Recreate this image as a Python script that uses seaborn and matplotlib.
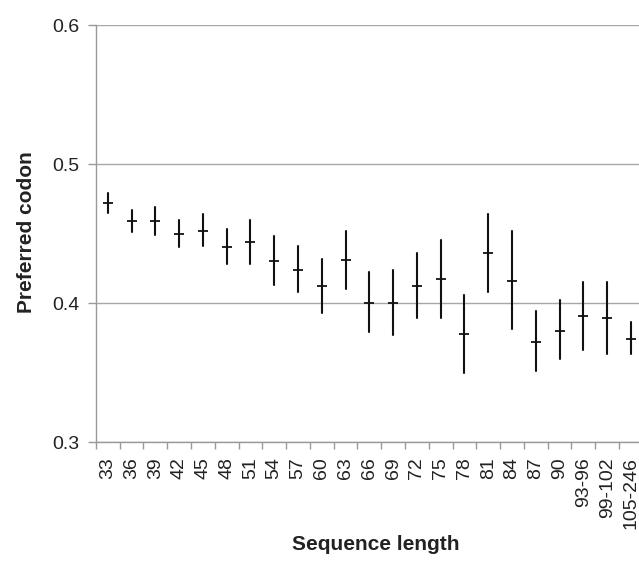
import matplotlib
matplotlib.use("Agg")
import matplotlib.pyplot as plt
import seaborn as sns
import pandas as pd
import numpy as np

lengths = ['33', '36', '39', '42', '45', '48', '51', '54', '57', '60', '63', '66',
           '69', '72', '75', '78', '81', '84', '87', '90', '93-96', '99-102', '105-246']
mean_vals = [0.472, 0.459, 0.459, 0.450, 0.452, 0.440, 0.444, 0.430, 0.424, 0.412, 0.431, 0.400,
             0.400, 0.412, 0.417, 0.378, 0.436, 0.416, 0.372, 0.380, 0.391, 0.389, 0.374]
lower_vals = [0.465, 0.451, 0.449, 0.440, 0.441, 0.428, 0.428, 0.413, 0.408, 0.393, 0.410, 0.379,
              0.377, 0.389, 0.389, 0.350, 0.408, 0.381, 0.351, 0.360, 0.366, 0.363, 0.363]
upper_vals = [0.479, 0.467, 0.469, 0.460, 0.464, 0.453, 0.460, 0.448, 0.441, 0.432, 0.452, 0.422,
              0.424, 0.436, 0.445, 0.406, 0.464, 0.452, 0.394, 0.402, 0.415, 0.415, 0.386]

# long form: median of (low, mean, high) is the mean, full percentile range gives the bar
df = pd.DataFrame({
    'length': lengths * 3,
    'value': lower_vals + mean_vals + upper_vals,
})

sns.set_style('white')
plt.rcParams['font.family'] = ['Liberation Sans', 'DejaVu Sans']

fig = plt.figure(figsize=(6.39, 5.62), dpi=100)
ax = fig.add_axes([0.150, 0.2135, 0.856, 0.742])

sns.pointplot(data=df, x='length', y='value', order=lengths,
              estimator='median', errorbar=('pi', 100),
              color='#111111', marker='_', markersize=7, markeredgewidth=1.3,
              linestyle='none', err_kws={'linewidth': 1.5}, ax=ax)

ax.set_ylim(0.3, 0.6)
ax.set_yticks([0.3, 0.4, 0.5, 0.6])
ax.set_yticklabels(['0.3', '0.4', '0.5', '0.6'], fontsize=14, color='#222222')
ax.yaxis.grid(True, color='#a8a8a8', linewidth=1)
ax.set_axisbelow(True)

ax.set_xlim(-0.5, len(lengths) - 0.5)
ax.set_xticks(range(len(lengths)))
ax.set_xticklabels(lengths, rotation=90, fontsize=14, color='#222222')
ax.set_xticks(np.arange(-0.5, len(lengths), 1), minor=True)
ax.tick_params(axis='x', which='major', length=0, pad=11)
ax.tick_params(axis='x', which='minor', length=5, color='#999999', width=1, bottom=True)
ax.tick_params(axis='y', length=6, color='#999999', width=1, left=True, pad=6)

for s in ['top', 'right']:
    ax.spines[s].set_visible(False)
for s in ['left', 'bottom']:
    ax.spines[s].set_color('#999999')
    ax.spines[s].set_linewidth(1)

ax.set_xlabel('Sequence length', fontsize=15, fontweight='bold', color='#222222')
ax.set_ylabel('Preferred codon', fontsize=15, fontweight='bold', color='#222222')
ax.xaxis.set_label_coords(0.512, -0.222)
ax.yaxis.set_label_coords(-0.11, 0.504)

fig.savefig('out.png', dpi=100)
